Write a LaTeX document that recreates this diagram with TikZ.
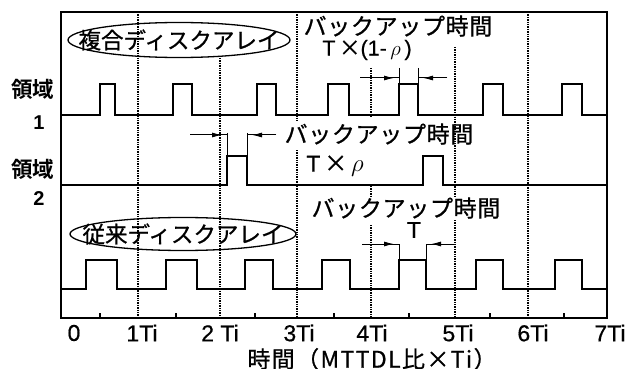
\documentclass[tikz,border=0pt]{standalone}
\usepackage{fontspec}
\setmainfont{Liberation Sans}[FakeBold=0.6]
\newfontfamily\lat{Liberation Sans}[FakeBold=0.6]
\newfontfamily\latb{Liberation Sans Bold}
\newfontfamily\jp{Noto Sans CJK JP}[FakeBold=0.8]
\newfontfamily\jpsp{Noto Sans CJK JP}[LetterSpace=3,FakeBold=0.8]
\newfontfamily\jpxl{Noto Sans CJK JP}[LetterSpace=6,FakeBold=0.8]
\newfontfamily\jpb{Noto Sans CJK JP Bold}
\usetikzlibrary{arrows.meta,shapes.geometric}
\begin{document}
\begin{tikzpicture}[x=1pt,y=-1pt,
  sig/.style={line width=2.6pt, line join=miter},
  frame/.style={line width=1.3pt},
  grid/.style={line width=1.4pt, densely dotted},
  dim/.style={line width=1pt},
  dimarrow/.style={line width=1pt, -{Latex[length=10pt,width=5pt]}, shorten >=5pt},
  jplabel/.style={font=\jpsp\fontsize{23}{23}\selectfont, inner sep=0pt},
  ovaltext/.style={font=\jp\fontsize{22.5}{22.5}\selectfont, inner sep=0pt},
  side/.style={font=\jpb\fontsize{21.5}{21.5}\selectfont, inner sep=0pt},
  sidenum/.style={font=\latb\fontsize{20}{20}\selectfont, inner sep=0pt},
  num/.style={font=\lat\fontsize{23}{23}\selectfont, inner sep=0pt},
  small/.style={font=\lat\fontsize{21.5}{21.5}\selectfont, inner sep=0pt},
  oval/.style={draw, ellipse, line width=1.3pt, inner sep=0pt}
]
\useasboundingbox (0,0) rectangle (630,369);

% frame
\draw[frame] (61,12) rectangle (607,318);

% grid lines
\draw[grid] (138,12) -- (138,318);
\draw[grid] (220,58) -- (220,318);
\draw[grid] (297,12) -- (297,122) (297,150) -- (297,318);
\draw[grid] (371,68) -- (371,118) (371,186) -- (371,196) (371,225) -- (371,318);
\draw[grid] (455,47) -- (455,197) (455,220) -- (455,318);
\draw[grid] (528,12) -- (528,318);

% half ticks
\foreach \x in {100,176,255,334,409,490,564}
  \draw[frame] (\x,318) -- (\x,313);

% region 1 signal
\draw[sig] (61,115) foreach \a/\b in {100/115,173/192,257/276,328/349,399/418,483/503,562/582}
  { -- (\a,115) -- (\a,84) -- (\b,84) -- (\b,115) } -- (607,115);

% region 2 signal
\draw[sig] (61,185) foreach \a/\b in {227/247,423/443}
  { -- (\a,185) -- (\a,156) -- (\b,156) -- (\b,185) } -- (607,185);

% conventional signal
\draw[sig] (61,289) foreach \a/\b in {86/117,166/197,245/273,322/350,399/426,476/503,555/582}
  { -- (\a,289) -- (\a,260) -- (\b,260) -- (\b,289) } -- (607,289);

% labels
\node[oval, minimum width=222pt, minimum height=35pt] (e1) at (179,40) {};
\node[ovaltext] (c1) at (179,40) {複合ディスクアレイ};
\node[oval, minimum width=226pt, minimum height=33pt] (e2) at (183,234) {};
\node[ovaltext] (c2) at (183,234) {従来ディスクアレイ};

\node[jplabel] (b1) at (398,26) {バックアップ時間};
\node[small] (t1) at (367,50) {T\,{\jp ×}(1-\,$\rho$\,)};
\node[jplabel] (b2) at (379,134) {バックアップ時間};
\node[num] (t2) at (335,166) {T\,{\jp ×}\,$\rho$};
\node[jplabel] (b3) at (406,208) {バックアップ時間};
\node[num] (t3) at (414,230) {T};

\node[side] (r1) at (33,89) {領域};
\node[sidenum] (n1) at (39,123) {1};
\node[side] (r2) at (33,169) {領域};
\node[sidenum] (n2) at (39,199) {2};

\foreach \x/\t in {74/0,142/1Ti,220/2 Ti,299/3Ti,372/4Ti,458/5Ti,533/6Ti,610/7Ti}
  \node[num] at (\x,333) {\t};
\node[font=\jpxl\fontsize{23}{23}\selectfont, inner sep=0pt] (xl) at (372,359) {時間（MTTDL比×Ti）};

% dimension marks region 1
\coordinate (p1a) at (360,78); \coordinate (p1b) at (399,78);
\coordinate (q1a) at (447,78); \coordinate (q1b) at (418,78);
\draw[dim] (399,68) -- (399,84) (418,68) -- (418,84);
\draw[dim] (p1a) -- (p1b); \draw[dimarrow] (p1a) -- (p1b);
\draw[dim] (q1a) -- (q1b); \draw[dimarrow] (q1a) -- (q1b);

% region 2
\coordinate (p2a) at (190,135); \coordinate (p2b) at (227,135);
\coordinate (q2a) at (276,135); \coordinate (q2b) at (247,135);
\draw[dim] (227,133) -- (227,156) (247,133) -- (247,156);
\draw[dim] (p2a) -- (p2b); \draw[dimarrow] (p2a) -- (p2b);
\draw[dim] (q2a) -- (q2b); \draw[dimarrow] (q2a) -- (q2b);

% conventional
\coordinate (p3a) at (362,244); \coordinate (p3b) at (399,244);
\coordinate (q3a) at (455,244); \coordinate (q3b) at (426,244);
\draw[dim] (399,244) -- (399,260) (426,244) -- (426,260);
\draw[dim] (p3a) -- (p3b); \draw[dimarrow] (p3a) -- (p3b);
\draw[dim] (q3a) -- (q3b); \draw[dimarrow] (q3a) -- (q3b);
\end{tikzpicture}
\end{document}
